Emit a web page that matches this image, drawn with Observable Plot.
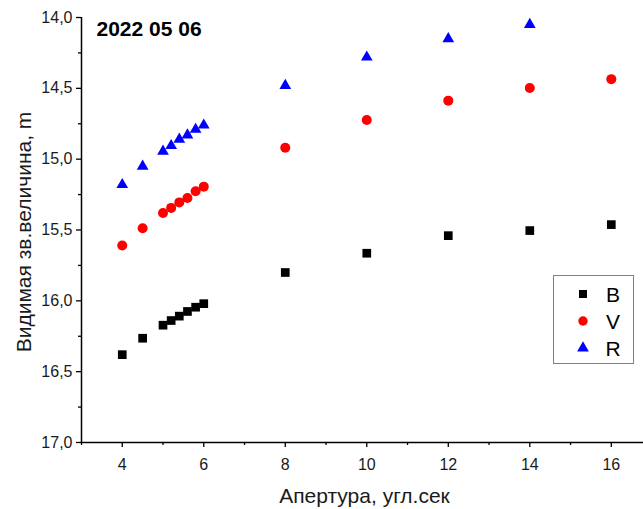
<!DOCTYPE html>
<html>
<head>
<meta charset="utf-8">
<script src="https://cdn.jsdelivr.net/npm/d3@7"></script>
<script src="https://cdn.jsdelivr.net/npm/@observablehq/plot@0.6"></script>
<style>
  html, body { margin: 0; padding: 0; background: #fff; }
  #chart { width: 643px; height: 509px; }
</style>
</head>
<body>
<div id="chart"></div>
<script>
// Data
const apertures = [4, 4.5, 5, 5.2, 5.4, 5.6, 5.8, 6, 8, 10, 12, 14, 16];
const magB = [16.38, 16.264, 16.172, 16.139, 16.108, 16.075, 16.045, 16.02, 15.80, 15.664, 15.54, 15.504, 15.462];
const magV = [15.61, 15.488, 15.38, 15.344, 15.305, 15.274, 15.227, 15.194, 14.92, 14.724, 14.587, 14.498, 14.435];
const magR = [15.18, 15.05, 14.945, 14.905, 14.86, 14.83, 14.79, 14.76, 14.48, 14.28, 14.15, 14.05, null];
const seriesNames = ["B", "V", "R"];
const seriesColors = ["#000000", "#ff0000", "#0000ff"];
const seriesSymbols = ["square", "circle", "triangle"];
const xMajorTicks = [4, 6, 8, 10, 12, 14, 16];
const xMinorTicks = [3, 5, 7, 9, 11, 13, 15];
const yMajorTicks = [14, 14.5, 15, 15.5, 16, 16.5, 17];
const yMinorTicks = [14.25, 14.75, 15.25, 15.75, 16.25, 16.75];
const titleText = "2022 05 06";
const xLabel = "Апертура, угл.сек";
const yLabel = "Видимая зв.величина, m";

const series = [magB, magV, magR];
const rows = [];
series.forEach((vals, si) => {
  vals.forEach((v, i) => {
    if (v != null) rows.push({band: seriesNames[si], x: apertures[i], y: v});
  });
});
const byBand = name => rows.filter(d => d.band === name);

const fmtY = d => d.toFixed(1).replace(".", ",");

const chart = Plot.plot({
  width: 643,
  height: 509,
  marginLeft: 81,
  marginRight: 0,
  marginTop: 17,
  marginBottom: 67,
  style: {fontFamily: "'Liberation Sans', Arial, sans-serif", background: "#fff", overflow: "visible"},
  x: {domain: [3, 16.79], label: null},
  y: {domain: [14, 17], reverse: true, label: null},
  marks: [
    Plot.axisX(xMajorTicks, {tickSize: 5, tickPadding: 11, fontSize: 16, fill: "#1a1a1a", strokeWidth: 1.3, label: null}),
    Plot.axisX(xMinorTicks, {tickSize: 3, tickFormat: () => "", strokeWidth: 1.3, label: null}),
    Plot.axisY(yMajorTicks, {tickSize: 5, tickPadding: 4, fontSize: 16, fill: "#1a1a1a", strokeWidth: 1.3, tickFormat: fmtY, label: null}),
    Plot.axisY(yMinorTicks, {tickSize: 3, tickFormat: () => "", strokeWidth: 1.3, label: null}),
    Plot.ruleY([17], {strokeWidth: 1.5}),
    Plot.ruleX([3], {strokeWidth: 1.5}),
    Plot.dot(byBand("B"), {x: "x", y: "y", symbol: "square", fill: seriesColors[0], r: 4.9}),
    Plot.dot(byBand("V"), {x: "x", y: "y", symbol: "circle", fill: seriesColors[1], r: 5}),
    Plot.dot(byBand("R"), {x: "x", y: "y", symbol: "triangle", fill: seriesColors[2], r: 4.35}),
    Plot.text([titleText], {frameAnchor: "top-left", dx: 15, dy: 4, textAnchor: "start", lineAnchor: "top", fontWeight: "bold", fontSize: 21, fill: "#000"}),
    Plot.text([xLabel], {frameAnchor: "bottom", dx: 2, dy: 60, textAnchor: "middle", fontSize: 21, fill: "#1a1a1a", lineAnchor: "bottom"}),
    Plot.text([yLabel], {frameAnchor: "left", dx: -57, dy: 2, rotate: -90, textAnchor: "middle", lineAnchor: "middle", fontSize: 21, fill: "#1a1a1a"})
  ]
});

document.getElementById("chart").appendChild(chart);

// Legend box (inside the plot, top-right area as in the reference)
const svg = d3.select(chart);
const lg = svg.append("g").attr("font-family", "'Liberation Sans', Arial, sans-serif");
lg.append("rect").attr("x", 553.5).attr("y", 275.5).attr("width", 80).attr("height", 88)
  .attr("fill", "#fff").attr("stroke", "#808080").attr("stroke-width", 1);
const symMap = {square: d3.symbolSquare, circle: d3.symbolCircle, triangle: d3.symbolTriangle};
const rMap = [4.5, 4.7, 4.35];
seriesNames.forEach((name, i) => {
  const cy = 294 + i * 27;
  lg.append("path")
    .attr("transform", `translate(583,${cy})`)
    .attr("d", d3.symbol(symMap[seriesSymbols[i]], Math.PI * rMap[i] * rMap[i])())
    .attr("fill", seriesColors[i]);
  lg.append("text").attr("x", 613).attr("y", cy + 7.5).attr("font-size", 21)
    .attr("fill", "#000").text(name);
});
</script>
</body>
</html>
